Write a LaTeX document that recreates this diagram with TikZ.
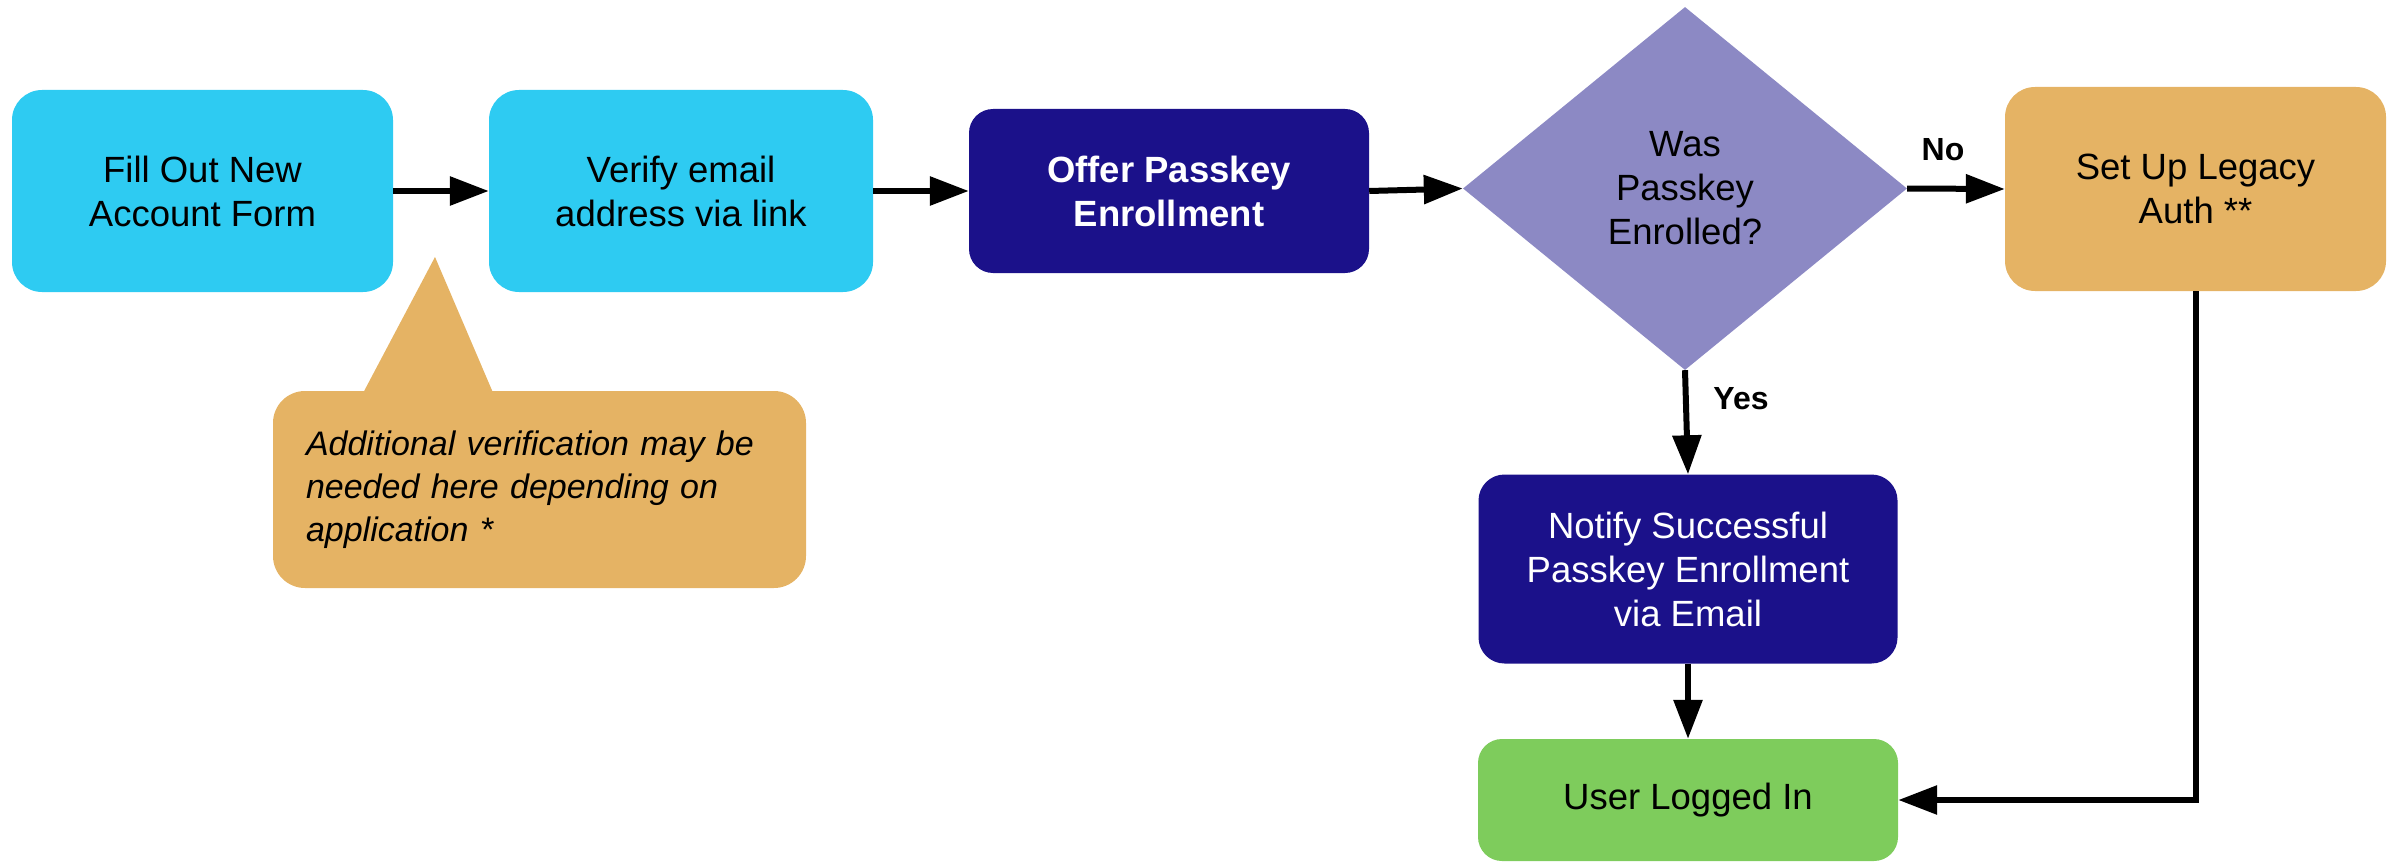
\documentclass[tikz,border=0pt]{standalone}
\usepackage{fontspec}
\setmainfont{Liberation Sans}
\usetikzlibrary{shapes.geometric,arrows.meta}
\definecolor{skyc}{RGB}{46,203,242}
\definecolor{navyc}{RGB}{27,17,138}
\definecolor{lavc}{RGB}{140,137,196}
\definecolor{goldc}{RGB}{229,179,100}
\definecolor{leafc}{RGB}{126,204,92}
\begin{document}
\begin{tikzpicture}[x=1pt,y=-1pt,
  box/.style={rectangle, rounded corners=30pt, inner sep=0pt, align=center,
    font=\fontsize{36.5}{44}\selectfont},
  flow/.style={line width=6pt, -{Triangle[length=39pt,width=28pt]}},
  lbl/.style={font=\fontsize{32}{38}\selectfont\bfseries}]
\useasboundingbox (0,0) rectangle (2397,864);

% process steps
\node[box, fill=skyc, minimum width=381pt, minimum height=202pt] (fill) at (202.5,191)
  {Fill Out New\\Account Form};
\node[box, fill=skyc, minimum width=384pt, minimum height=202pt] (verify) at (681,191)
  {Verify email\\address via link};
\node[box, fill=navyc, text=white, rounded corners=24pt, minimum width=400pt, minimum height=164pt,
  font=\fontsize{36.5}{44}\selectfont\bfseries] (offer) at (1169,191)
  {Offer Passkey\\Enrollment};
\node[diamond, fill=lavc, inner sep=0pt, align=center, minimum width=444pt, minimum height=363pt,
  font=\fontsize{36.5}{44}\selectfont] (dec) at (1685,188.5)
  {Was\\Passkey\\Enrolled?};
\node[box, fill=goldc, minimum width=381pt, minimum height=204pt] (legacy) at (2195.5,189)
  {Set Up Legacy\\Auth **};
\node[box, fill=navyc, text=white, rounded corners=26pt, minimum width=419pt, minimum height=189pt] (notify) at (1688,569)
  {Notify Successful\\Passkey Enrollment\\via Email};
\node[box, fill=leafc, rounded corners=24pt, minimum width=420pt, minimum height=122pt] (user) at (1688,800)
  {User Logged In};

% callout with pointer
\fill[goldc] (362,395) -- (435,257) -- (494,395) -- cycle;
\node[rectangle, fill=goldc, rounded corners=32pt, inner sep=0pt, minimum width=533pt, minimum height=197pt,
  text width=467pt, align=left, font=\fontsize{34}{43}\selectfont\itshape] (note) at (539.5,489.5)
  {Additional verification may be\\needed here depending on\\application *};

% connectors
\draw[flow] (fill.east) -- (verify.west);
\draw[flow] (verify.east) -- (offer.west);
\draw[flow] (offer.east) -- (dec.west);
\draw[flow] (dec.east) -- (legacy.west);
\draw[flow] (dec.south) -- (notify.north);
\draw[flow] (notify.south) -- (user.north);
\draw[flow] (legacy.south) |- (user.east);

% branch labels
\node[lbl] (nolbl) at (1943,150) {No};
\node[lbl] (yeslbl) at (1741,399) {Yes};
\end{tikzpicture}
\end{document}
